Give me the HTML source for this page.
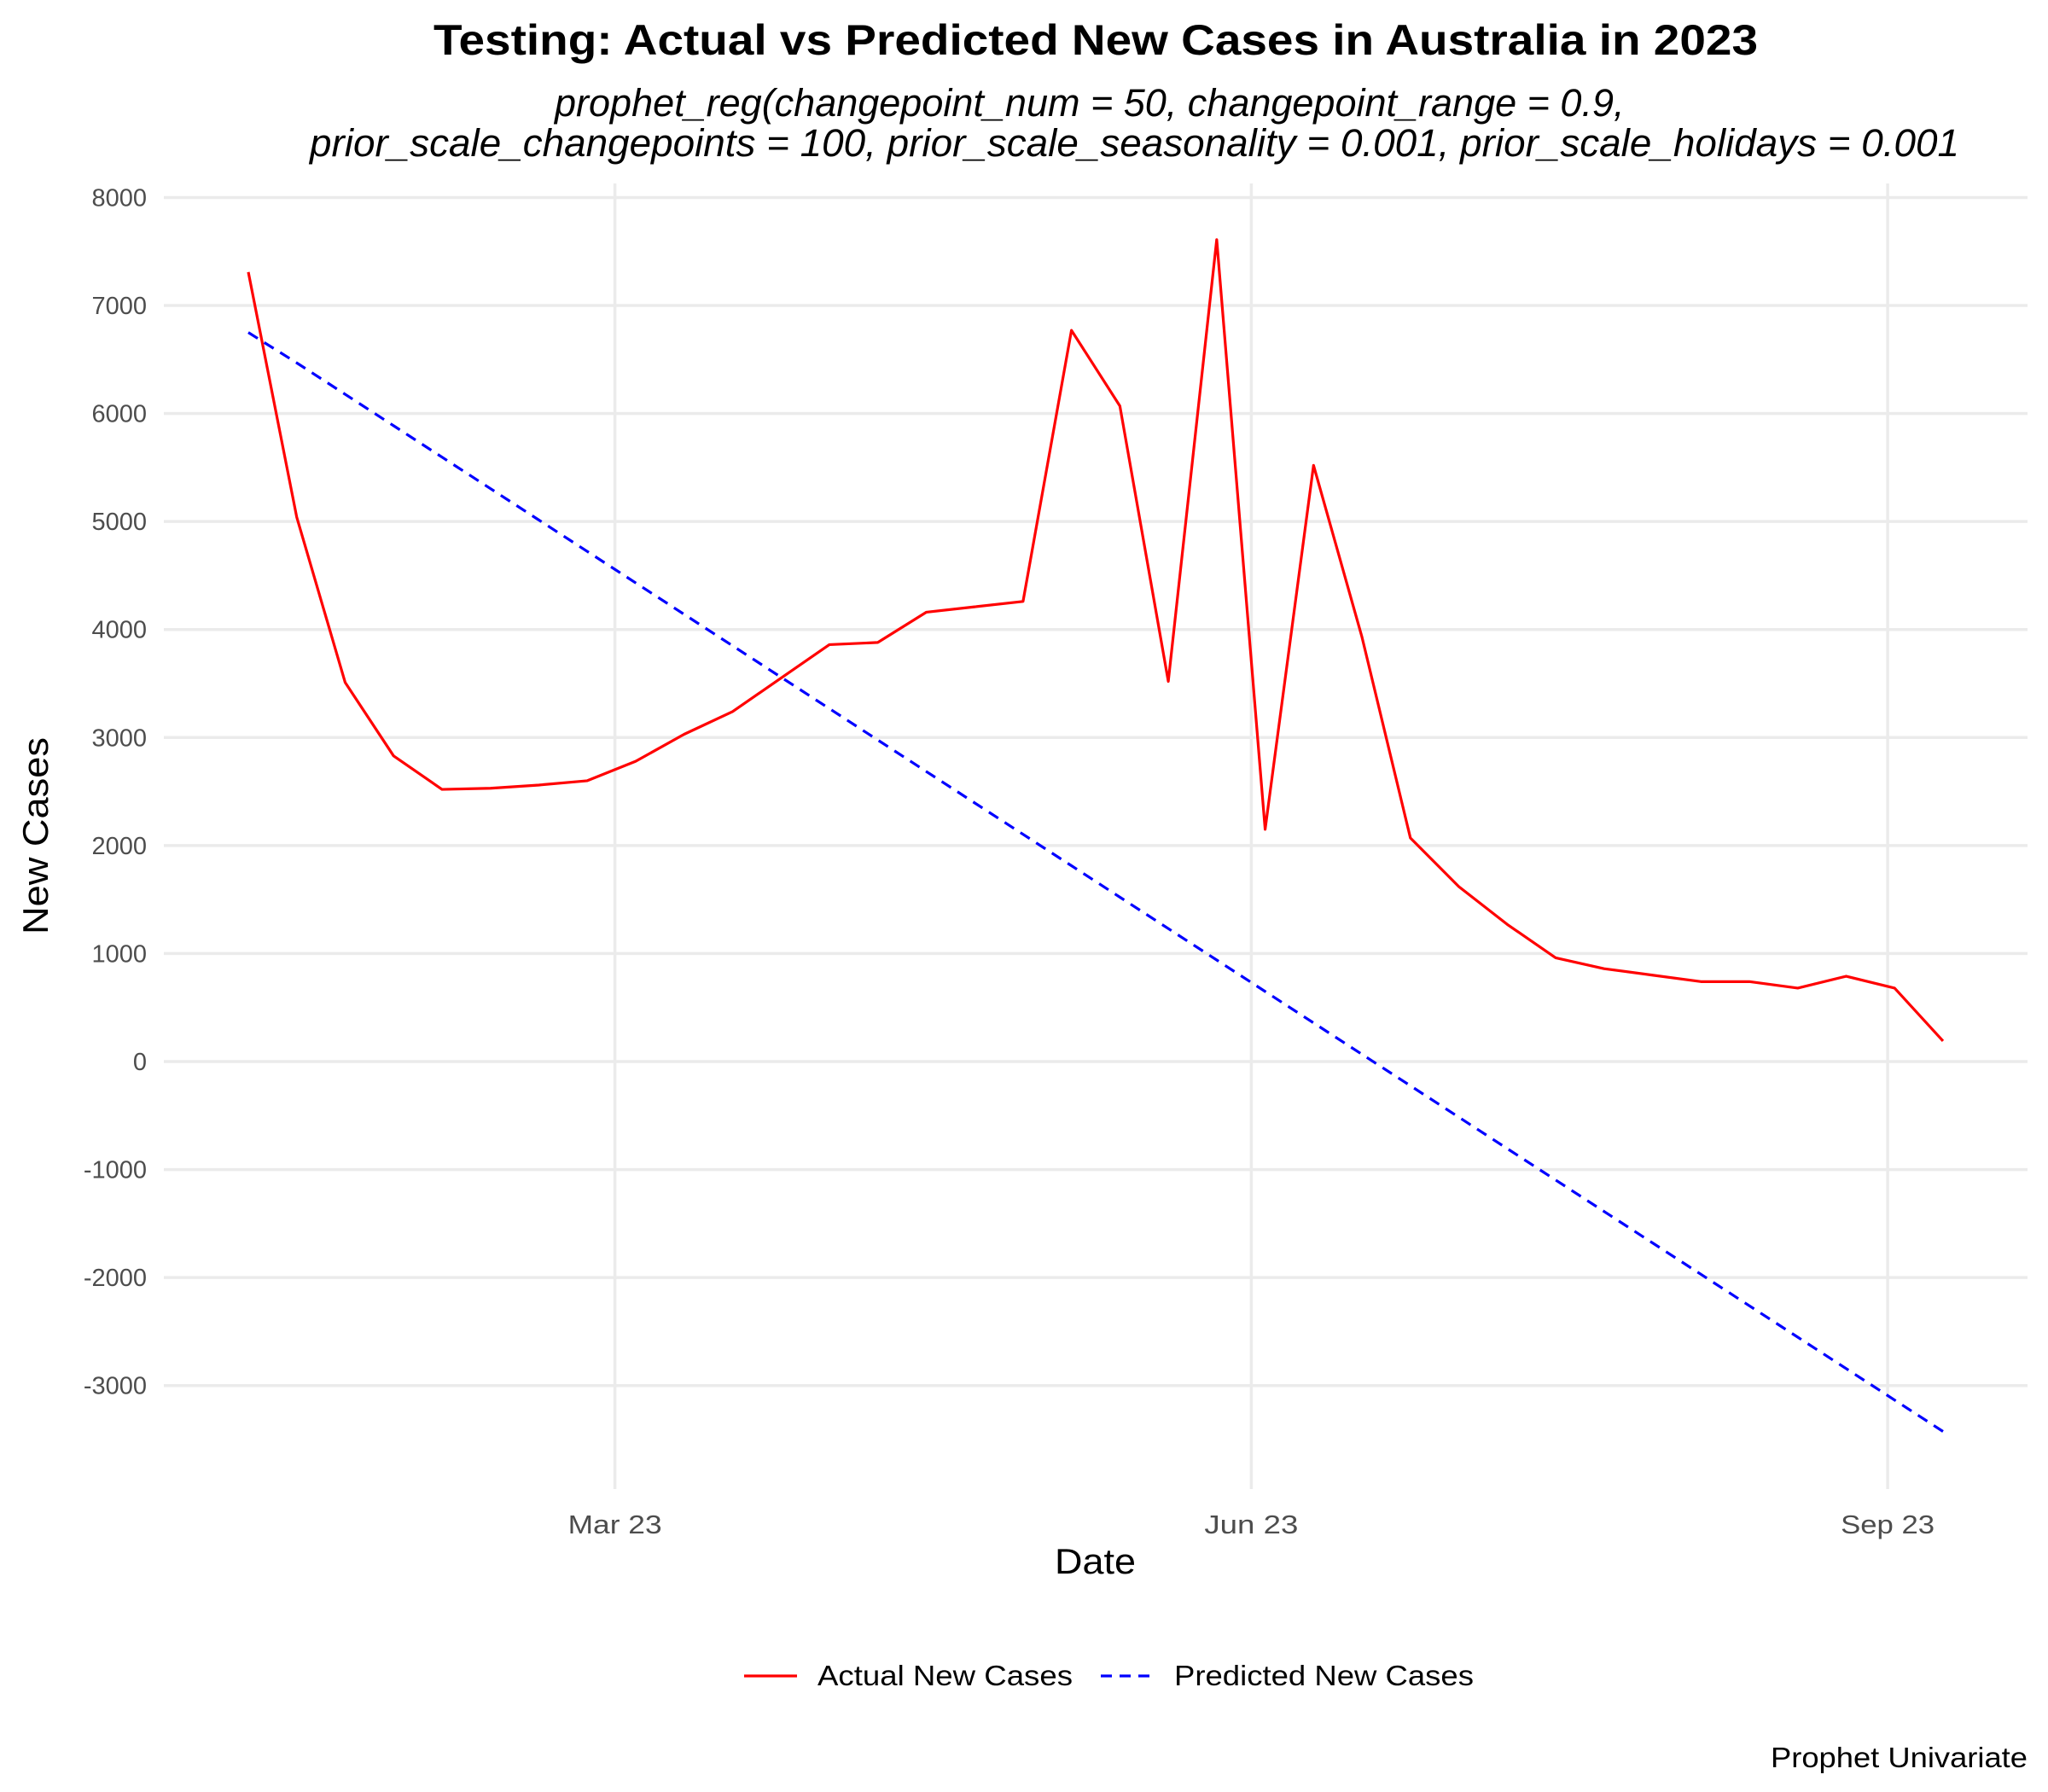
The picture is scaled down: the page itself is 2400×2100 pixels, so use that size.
<!DOCTYPE html>
<html><head><meta charset="utf-8"><style>
body{margin:0;background:#fff}
svg{display:block;font-family:"Liberation Sans",sans-serif}
</style></head><body>
<svg id="chart" width="2400" height="2100" viewBox="0 0 2400 2100">
<text x="508" y="64" font-size="50" font-weight="bold" fill="#000" textLength="1552" lengthAdjust="spacingAndGlyphs">Testing: Actual vs Predicted New Cases in Australia in 2023</text>
<text x="650" y="136" font-size="45" font-style="italic" fill="#000">prophet_reg(changepoint_num = 50, changepoint_range = 0.9,</text>
<text x="363" y="183" font-size="45" font-style="italic" fill="#000" textLength="1933" lengthAdjust="spacingAndGlyphs">prior_scale_changepoints = 100, prior_scale_seasonality = 0.001, prior_scale_holidays = 0.001</text>
<g id="grid"></g>
<g id="yticks"></g>
<g id="xticks"></g>
<g id="series"></g>
<text x="1236" y="1844" font-size="42" fill="#000" textLength="95" lengthAdjust="spacingAndGlyphs">Date</text>
<text transform="translate(56,980) rotate(-90)" x="-115" font-size="42" fill="#000" textLength="231" lengthAdjust="spacingAndGlyphs">New Cases</text>
<g>
<g>
<line x1="872" y1="1964" x2="934" y2="1964" stroke="#ff0000" stroke-width="3.2"/>
<text x="958" y="1975" font-size="33" fill="#000" textLength="299" lengthAdjust="spacingAndGlyphs">Actual New Cases</text></g>
<g>
<line x1="1290" y1="1964" x2="1351" y2="1964" stroke="#0000ff" stroke-width="3.2" stroke-dasharray="13,9"/>
<text x="1376" y="1975" font-size="33" fill="#000" textLength="351" lengthAdjust="spacingAndGlyphs">Predicted New Cases</text></g>
</g>
<text x="2075" y="2071" font-size="33" fill="#000" textLength="301" lengthAdjust="spacingAndGlyphs">Prophet Univariate</text>
</svg>
<script>
// day of year (Jan 1 = 0) for weekly points
const days=[6,13,20,27,34,41,48,55,62,69,76,83,90,97,104,111,118,125,132,139,146,153,160,167,174,181,188,195,202,209,216,223,230,237,244,251];
const actual=[7310,5040,3510,2830,2520,2530,2560,2600,2780,3030,3240,3550,3860,3880,4160,4210,4260,6770,6070,3520,7610,2150,5520,3930,2070,1620,1270,960,860,800,740,740,680,790,680,190];
const predicted=[6750,6469,6178,5887,5596,5305,5014,4723,4432,4141,3850,3559,3268,2977,2686,2395,2104,1813,1522,1231,940,649,358,67,-224,-515,-806,-1097,-1388,-1679,-1970,-2261,-2552,-2843,-3134,-3425];
const yTicks=[-3000,-2000,-1000,0,1000,2000,3000,4000,5000,6000,7000,8000];
const xTickDays=[59,151,243];
const xTickLabels=["Mar 23","Jun 23","Sep 23"];
const NS="http://www.w3.org/2000/svg";
const PL=192,PR=2376,PT=215,PB=1745;
function xs(d){return 291+(d-6)*8.106;}
function ys(v){return 1244-v*0.12657;}
function mk(tag,attrs,parent){const e=document.createElementNS(NS,tag);for(const k in attrs)e.setAttribute(k,attrs[k]);parent.appendChild(e);return e;}
const grid=document.getElementById('grid'),yt=document.getElementById('yticks'),xt=document.getElementById('xticks'),ser=document.getElementById('series');
yTicks.forEach(v=>{
  const l=mk('line',{x1:PL,x2:PR,y1:ys(v),y2:ys(v),stroke:'#ebebeb','stroke-width':3.5},grid);
  
  
  const t=mk('text',{x:172,y:ys(v)+10,'text-anchor':'end','font-size':29,fill:'#4d4d4d'},yt);
  t.textContent=v;
  
  
});
xTickDays.forEach((d,i)=>{
  const l=mk('line',{x1:xs(d),x2:xs(d),y1:PT,y2:PB,stroke:'#ebebeb','stroke-width':3.5},grid);
  
  
  const t=mk('text',{x:xs(d)-55,y:1797,'font-size':31,fill:'#4d4d4d',textLength:110,lengthAdjust:'spacingAndGlyphs'},xt);
  t.textContent=xTickLabels[i];
  
  
});
const a=mk('polyline',{points:days.map((d,i)=>xs(d)+','+ys(actual[i])).join(' '),fill:'none',stroke:'#ff0000','stroke-width':3.2,'stroke-linejoin':'round'},ser);


const p=mk('polyline',{points:days.map((d,i)=>xs(d)+','+ys(predicted[i])).join(' '),fill:'none',stroke:'#0000ff','stroke-width':3.2,'stroke-dasharray':'13,9'},ser);


</script>
</body></html>
